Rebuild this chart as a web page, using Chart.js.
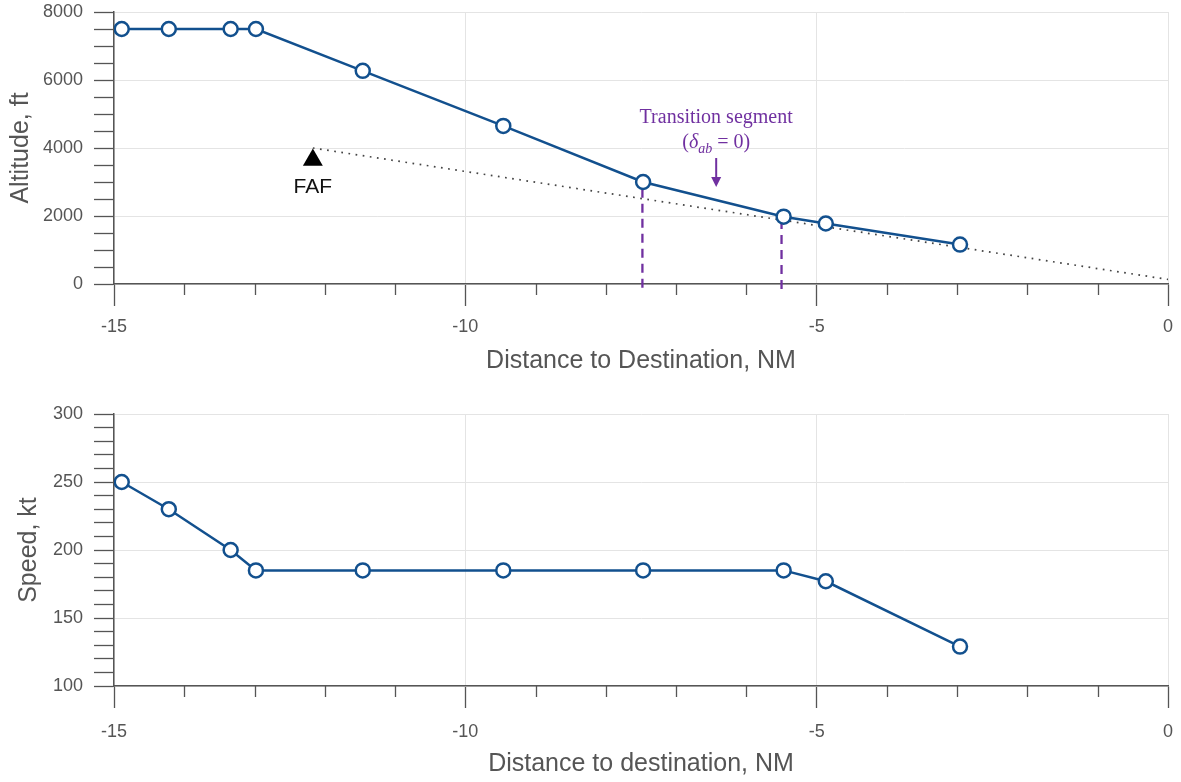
<!DOCTYPE html>
<html><head><meta charset="utf-8">
<script src="https://cdn.jsdelivr.net/npm/chart.js@4/dist/chart.umd.min.js"></script>
<style>
html,body{margin:0;padding:0;background:#fff;}
#w1{position:absolute;left:0;top:0;width:1181px;height:390px;}
#w2{position:absolute;left:0;top:390px;width:1181px;height:392px;}
</style></head><body>
<div id="w1"><canvas id="c1"></canvas></div>
<div id="w2"><canvas id="c2"></canvas></div>
<script>
// ---- data ----
const distance = [-14.89, -14.22, -13.34, -12.98, -11.46, -9.46, -7.47, -5.47, -4.87, -2.96];
const altitude = [7500, 7500, 7500, 7500, 6270, 4650, 3000, 1980, 1780, 1160];
const speed    = [250, 230, 200, 185, 185, 185, 185, 185, 177, 129];
const glideDistance = [-12.17, 0];
const glideAltitude = [4000, 135];
const fafDistance = [-12.17];
const fafAltitude = [3650];
const transitionDistance = [-7.48, -5.5];
const transitionTop = [2800, 1880];
const transitionBottom = [-270, -270];
const xTickLabels = [-15, -10, -5, 0];
const altTickLabels = [0, 2000, 4000, 6000, 8000];
const speedTickLabels = [100, 150, 200, 250, 300];

// annotation anchors (data coords)
const transitionTextX = -6.43;
const transitionLine1Alt = 4735;
const transitionLine2Alt = 4000;
const arrowFromAlt = 3705;
const arrowToAlt = 2853;

const BLUE = '#12508e';
const PURPLE = '#7030A0';
const AXIS = '#555';
const GRID = '#e4e4e4';
const FONT = "'Liberation Sans', Arial, sans-serif";

function pts(xs, ys){ return xs.map((x,i)=>({x:x, y:ys[i]})); }

const minorTicks = {
  id: 'minorTicks',
  afterDraw(chart) {
    const xs = chart.scales.x, ctx = chart.ctx, y0 = chart.chartArea.bottom;
    ctx.save(); ctx.strokeStyle = AXIS; ctx.lineWidth = 1.3;
    xs.ticks.forEach(t => {
      if (xTickLabels.includes(Math.round(t.value))) return;
      const px = Math.round(xs.getPixelForValue(t.value)) + 0.5;
      ctx.beginPath(); ctx.moveTo(px, y0); ctx.lineTo(px, y0 + 11); ctx.stroke();
    });
    ctx.restore();
  }
};

function xAxis(titleText, axisHeight, tickPad, titlePad) {
  return {
    type: 'linear', min: -15, max: 0,
    afterFit: s => { s.height = axisHeight; s.paddingLeft = 0; s.paddingRight = 0; },
    ticks: {
      stepSize: 1, autoSkip: false, maxRotation: 0, padding: tickPad,
      color: AXIS, font: { family: FONT, size: 18 },
      callback: v => xTickLabels.includes(Math.round(v)) ? String(Math.round(v)) : ''
    },
    grid: {
      color: c => (c.tick && xTickLabels.includes(Math.round(c.tick.value))) ? GRID : 'rgba(0,0,0,0)',
      tickColor: c => (c.tick && xTickLabels.includes(Math.round(c.tick.value))) ? AXIS : 'rgba(0,0,0,0)',
      tickLength: 22, tickWidth: 1.3, lineWidth: 1
    },
    border: { display: true, color: AXIS, width: 1.5 },
    title: { display: true, text: titleText, color: AXIS, font: { family: FONT, size: 25 }, padding: { top: 0, bottom: titlePad } }
  };
}

function yAxis(titleText, min, max, step, labels, titlePad) {
  return {
    type: 'linear', min: min, max: max,
    afterFit: s => { s.width = 114; s.paddingTop = 0; s.paddingBottom = 0; },
    ticks: {
      stepSize: step, autoSkip: false, padding: 11,
      color: AXIS, font: { family: FONT, size: 18 },
      callback: v => labels.includes(v) ? String(v) : ''
    },
    grid: {
      color: c => (c.tick && labels.includes(c.tick.value)) ? GRID : 'rgba(0,0,0,0)',
      tickColor: AXIS, tickLength: 20, tickWidth: 1.3, lineWidth: 1
    },
    border: { display: true, color: AXIS, width: 1.5 },
    title: { display: true, text: titleText, color: AXIS, font: { family: FONT, size: 25 }, padding: { top: titlePad, bottom: 0 } }
  };
}

const annotations = {
  id: 'annotations',
  afterDatasetsDraw(chart) {
    const ctx = chart.ctx, xs = chart.scales.x, ys = chart.scales.y;
    ctx.save();
    // FAF label
    const fx = xs.getPixelForValue(fafDistance[0]);
    const fy = ys.getPixelForValue(fafAltitude[0]);
    ctx.fillStyle = '#111'; ctx.font = "21px " + FONT;
    ctx.textAlign = 'center'; ctx.textBaseline = 'alphabetic';
    ctx.fillText('FAF', fx, fy + 33);

    // Transition segment label
    const tx = xs.getPixelForValue(transitionTextX);
    ctx.fillStyle = PURPLE;
    ctx.font = "20px 'Liberation Serif', 'Times New Roman', serif";
    ctx.fillText('Transition segment', tx, ys.getPixelForValue(transitionLine1Alt));
    // second line: (δ_ab = 0)
    const by = ys.getPixelForValue(transitionLine2Alt);
    const up = "20px 'Liberation Serif', 'Times New Roman', serif";
    const it = "italic 20px 'Liberation Serif', 'Times New Roman', serif";
    const sub = "italic 14px 'Liberation Serif', 'Times New Roman', serif";
    const parts = [['(', up, 0], ['δ', it, 0], ['ab', sub, 5], [' = 0)', up, 0]];
    let total = 0;
    parts.forEach(p => { ctx.font = p[1]; total += ctx.measureText(p[0]).width; });
    let cx = tx - total / 2;
    ctx.textAlign = 'left';
    parts.forEach(p => { ctx.font = p[1]; ctx.fillText(p[0], cx, by + p[2]); cx += ctx.measureText(p[0]).width; });

    // arrow
    const a0 = ys.getPixelForValue(arrowFromAlt), a1 = ys.getPixelForValue(arrowToAlt);
    ctx.strokeStyle = PURPLE; ctx.lineWidth = 2;
    ctx.beginPath(); ctx.moveTo(tx, a0); ctx.lineTo(tx, a1 - 8); ctx.stroke();
    ctx.beginPath(); ctx.moveTo(tx - 5, a1 - 10); ctx.lineTo(tx + 5, a1 - 10); ctx.lineTo(tx, a1); ctx.closePath(); ctx.fill();
    ctx.restore();
  }
};

const common = {
  responsive: true, maintainAspectRatio: false, animation: false,
  devicePixelRatio: 1,
  plugins: { legend: { display: false }, tooltip: { enabled: false } }
};

new Chart(document.getElementById('c1'), {
  type: 'line',
  data: { datasets: [
    { data: pts(distance, altitude), borderColor: BLUE, borderWidth: 2.5, pointRadius: 7, pointBorderWidth: 2.5,
      pointBackgroundColor: '#fff', pointBorderColor: BLUE, order: 0 },
    { data: pts(glideDistance, glideAltitude), borderColor: '#444', borderWidth: 1.7, borderDash: [1.7, 5.5],
      pointRadius: 0, order: 3 },
    { data: pts(fafDistance, fafAltitude), showLine: false, pointStyle: 'triangle', pointRadius: 11.5,
      pointBackgroundColor: '#000', pointBorderColor: '#000', pointBorderWidth: 0, order: 1 },
    { data: [{x: transitionDistance[0], y: transitionTop[0]}, {x: transitionDistance[0], y: transitionBottom[0]}],
      borderColor: PURPLE, borderWidth: 2.3, borderDash: [9, 6], pointRadius: 0, clip: false, order: 2 },
    { data: [{x: transitionDistance[1], y: transitionTop[1]}, {x: transitionDistance[1], y: transitionBottom[1]}],
      borderColor: PURPLE, borderWidth: 2.3, borderDash: [9, 6], pointRadius: 0, clip: false, order: 2 }
  ]},
  options: Object.assign({}, common, {
    layout: { padding: { top: 12, right: 13, left: 0, bottom: 0 } },
    scales: {
      x: xAxis('Distance to Destination, NM', 106, 10, 14),
      y: yAxis('Altitude, ft', 0, 8000, 500, altTickLabels, 6)
    }
  }),
  plugins: [minorTicks, annotations]
});

new Chart(document.getElementById('c2'), {
  type: 'line',
  data: { datasets: [
    { data: pts(distance, speed), borderColor: BLUE, borderWidth: 2.5, pointRadius: 7, pointBorderWidth: 2.5,
      pointBackgroundColor: '#fff', pointBorderColor: BLUE }
  ]},
  options: Object.assign({}, common, {
    layout: { padding: { top: 24, right: 13, left: 0, bottom: 0 } },
    scales: {
      x: xAxis('Distance to destination, NM', 96, 13, 3),
      y: yAxis('Speed, kt', 100, 300, 10, speedTickLabels, 14)
    }
  }),
  plugins: [minorTicks]
});
</script>
</body></html>
